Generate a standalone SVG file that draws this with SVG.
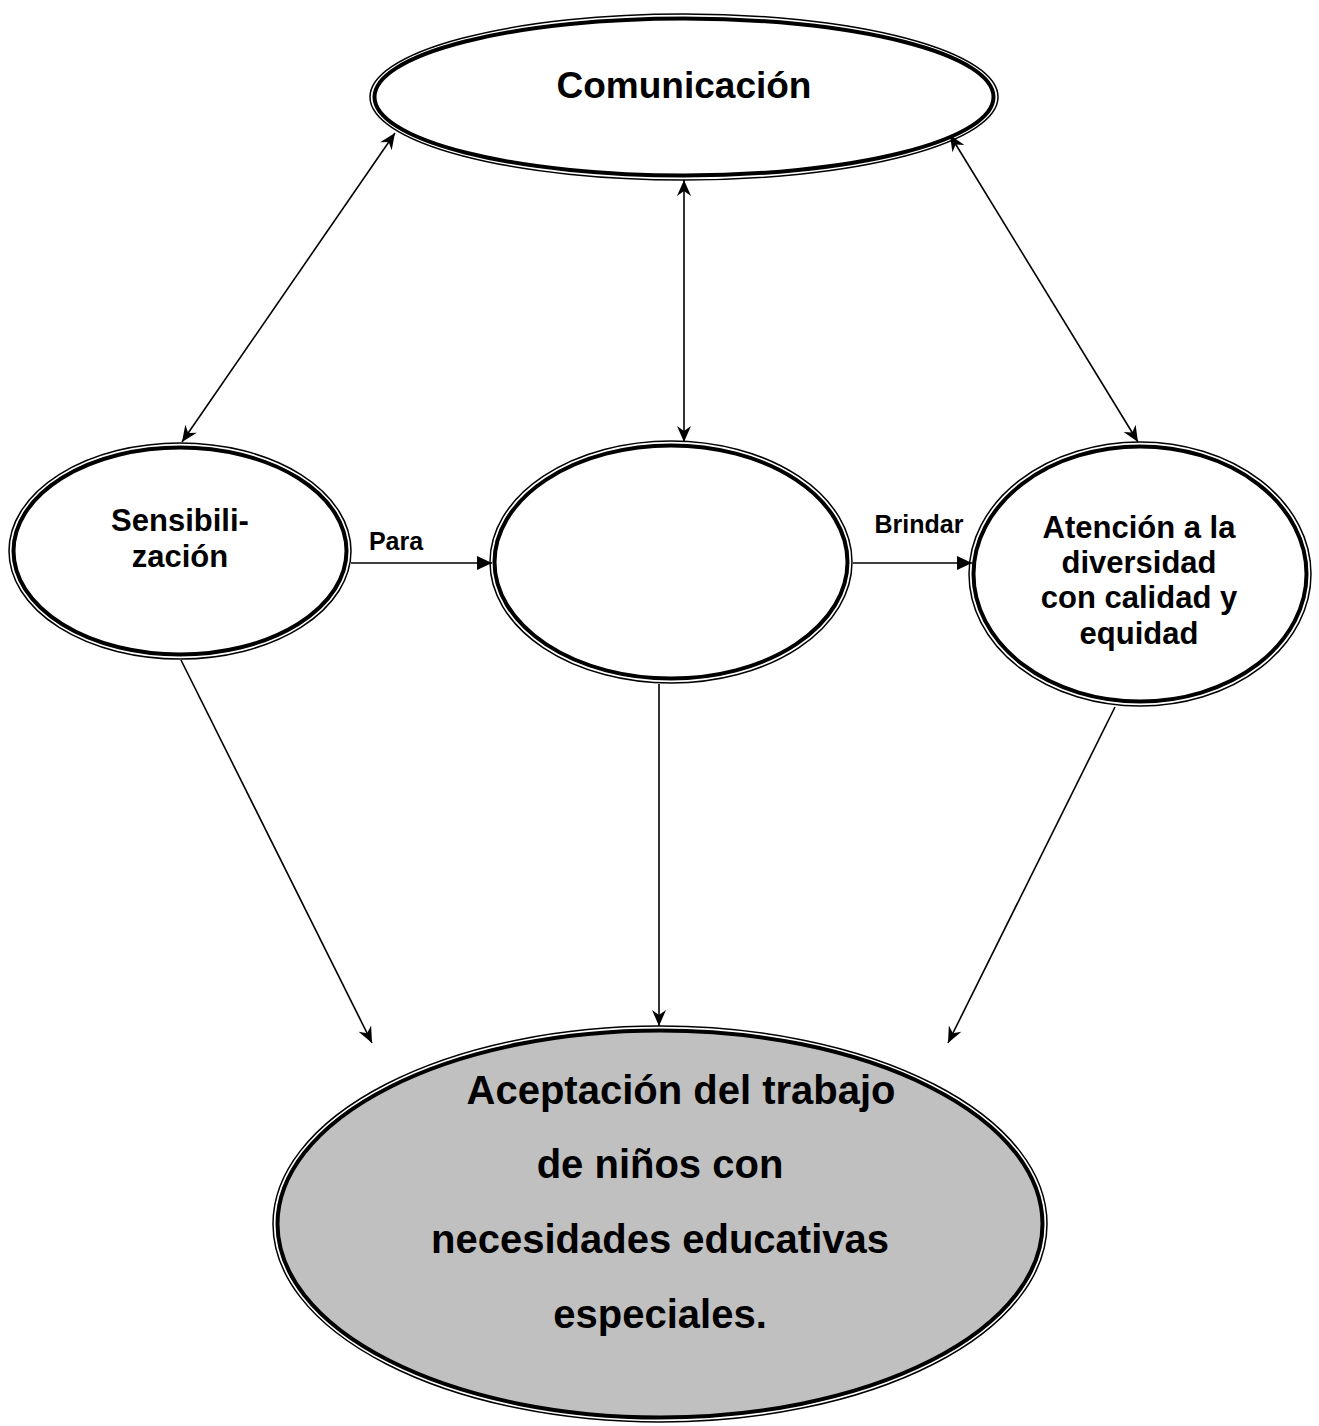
<svg xmlns="http://www.w3.org/2000/svg" width="1319" height="1426" viewBox="0 0 1319 1426">
<style>
.o{fill:none;stroke:#000;stroke-width:1.5}
.i{fill:#fff;stroke:#000;stroke-width:4}
.g{fill:#c0c0c0}
.t{font-family:"Liberation Sans",Arial,sans-serif;font-weight:bold;fill:#000;text-anchor:middle}
.c{stroke:#000;stroke-width:1.6;fill:none}
</style>
<defs>
<marker id="st" viewBox="-17 -8 18 16" refX="0" refY="0" markerWidth="18" markerHeight="16" markerUnits="userSpaceOnUse" orient="auto-start-reverse">
<path d="M0,0 L-16,-7 L-11,0 L-16,7 Z" fill="#000"/>
</marker>
<marker id="tr" viewBox="-17 -8 18 16" refX="0" refY="0" markerWidth="18" markerHeight="16" markerUnits="userSpaceOnUse" orient="auto">
<path d="M0,0 L-15,-7 L-15,7 Z" fill="#000"/>
</marker>
</defs>
<rect width="1319" height="1426" fill="#fff"/>
<g id="connectors">
<line class="c" x1="395" y1="133" x2="182" y2="442" marker-start="url(#st)" marker-end="url(#st)"/>
<line class="c" x1="684" y1="180" x2="684" y2="442" marker-start="url(#st)" marker-end="url(#st)"/>
<line class="c" x1="950" y1="135" x2="1138" y2="442" marker-start="url(#st)" marker-end="url(#st)"/>
<line class="c" x1="351" y1="563" x2="492" y2="563" marker-end="url(#tr)"/>
<line class="c" x1="853" y1="563" x2="972" y2="563" marker-end="url(#tr)"/>
<line class="c" x1="181" y1="660" x2="372" y2="1043" marker-end="url(#st)"/>
<line class="c" x1="659" y1="684" x2="659" y2="1026" marker-end="url(#st)"/>
<line class="c" x1="1115" y1="707" x2="948" y2="1043" marker-end="url(#st)"/>
</g>
<g id="comunicacion">
<ellipse class="o" cx="684" cy="97" rx="314" ry="83"/>
<ellipse class="i" cx="684" cy="97" rx="309.5" ry="78.5"/>
<text class="t" x="684" y="98" font-size="37">Comunicación</text>
</g>
<g id="sensibilizacion">
<ellipse class="o" cx="180" cy="551" rx="171" ry="108"/>
<ellipse class="i" cx="180" cy="551" rx="166.5" ry="103.5"/>
<text class="t" font-size="31"><tspan x="180" y="531">Sensibili-</tspan><tspan x="180" y="567">zación</tspan></text>
</g>
<g id="centro">
<ellipse class="o" cx="671" cy="562" rx="181" ry="121"/>
<ellipse class="i" cx="671" cy="562" rx="176.5" ry="116.5"/>
</g>
<g id="atencion">
<ellipse class="o" cx="1140" cy="574" rx="171" ry="132"/>
<ellipse class="i" cx="1140" cy="574" rx="166.5" ry="127.5"/>
<text class="t" font-size="31"><tspan x="1139" y="538">Atención a la</tspan><tspan x="1139" y="573">diversidad</tspan><tspan x="1139" y="608">con calidad y</tspan><tspan x="1139" y="644">equidad</tspan></text>
</g>
<g id="aceptacion">
<ellipse class="o" cx="660" cy="1224" rx="387" ry="198"/>
<ellipse class="i g" cx="660" cy="1224" rx="382.5" ry="193.5"/>
<text class="t" font-size="40"><tspan x="681" y="1104">Aceptación del trabajo</tspan><tspan x="660" y="1178">de niños con</tspan><tspan x="660" y="1253">necesidades educativas</tspan><tspan x="660" y="1328">especiales.</tspan></text>
</g>
<g id="labels">
<text class="t" x="396" y="550" font-size="25">Para</text>
<text class="t" x="919" y="533" font-size="25">Brindar</text>
</g>
</svg>
